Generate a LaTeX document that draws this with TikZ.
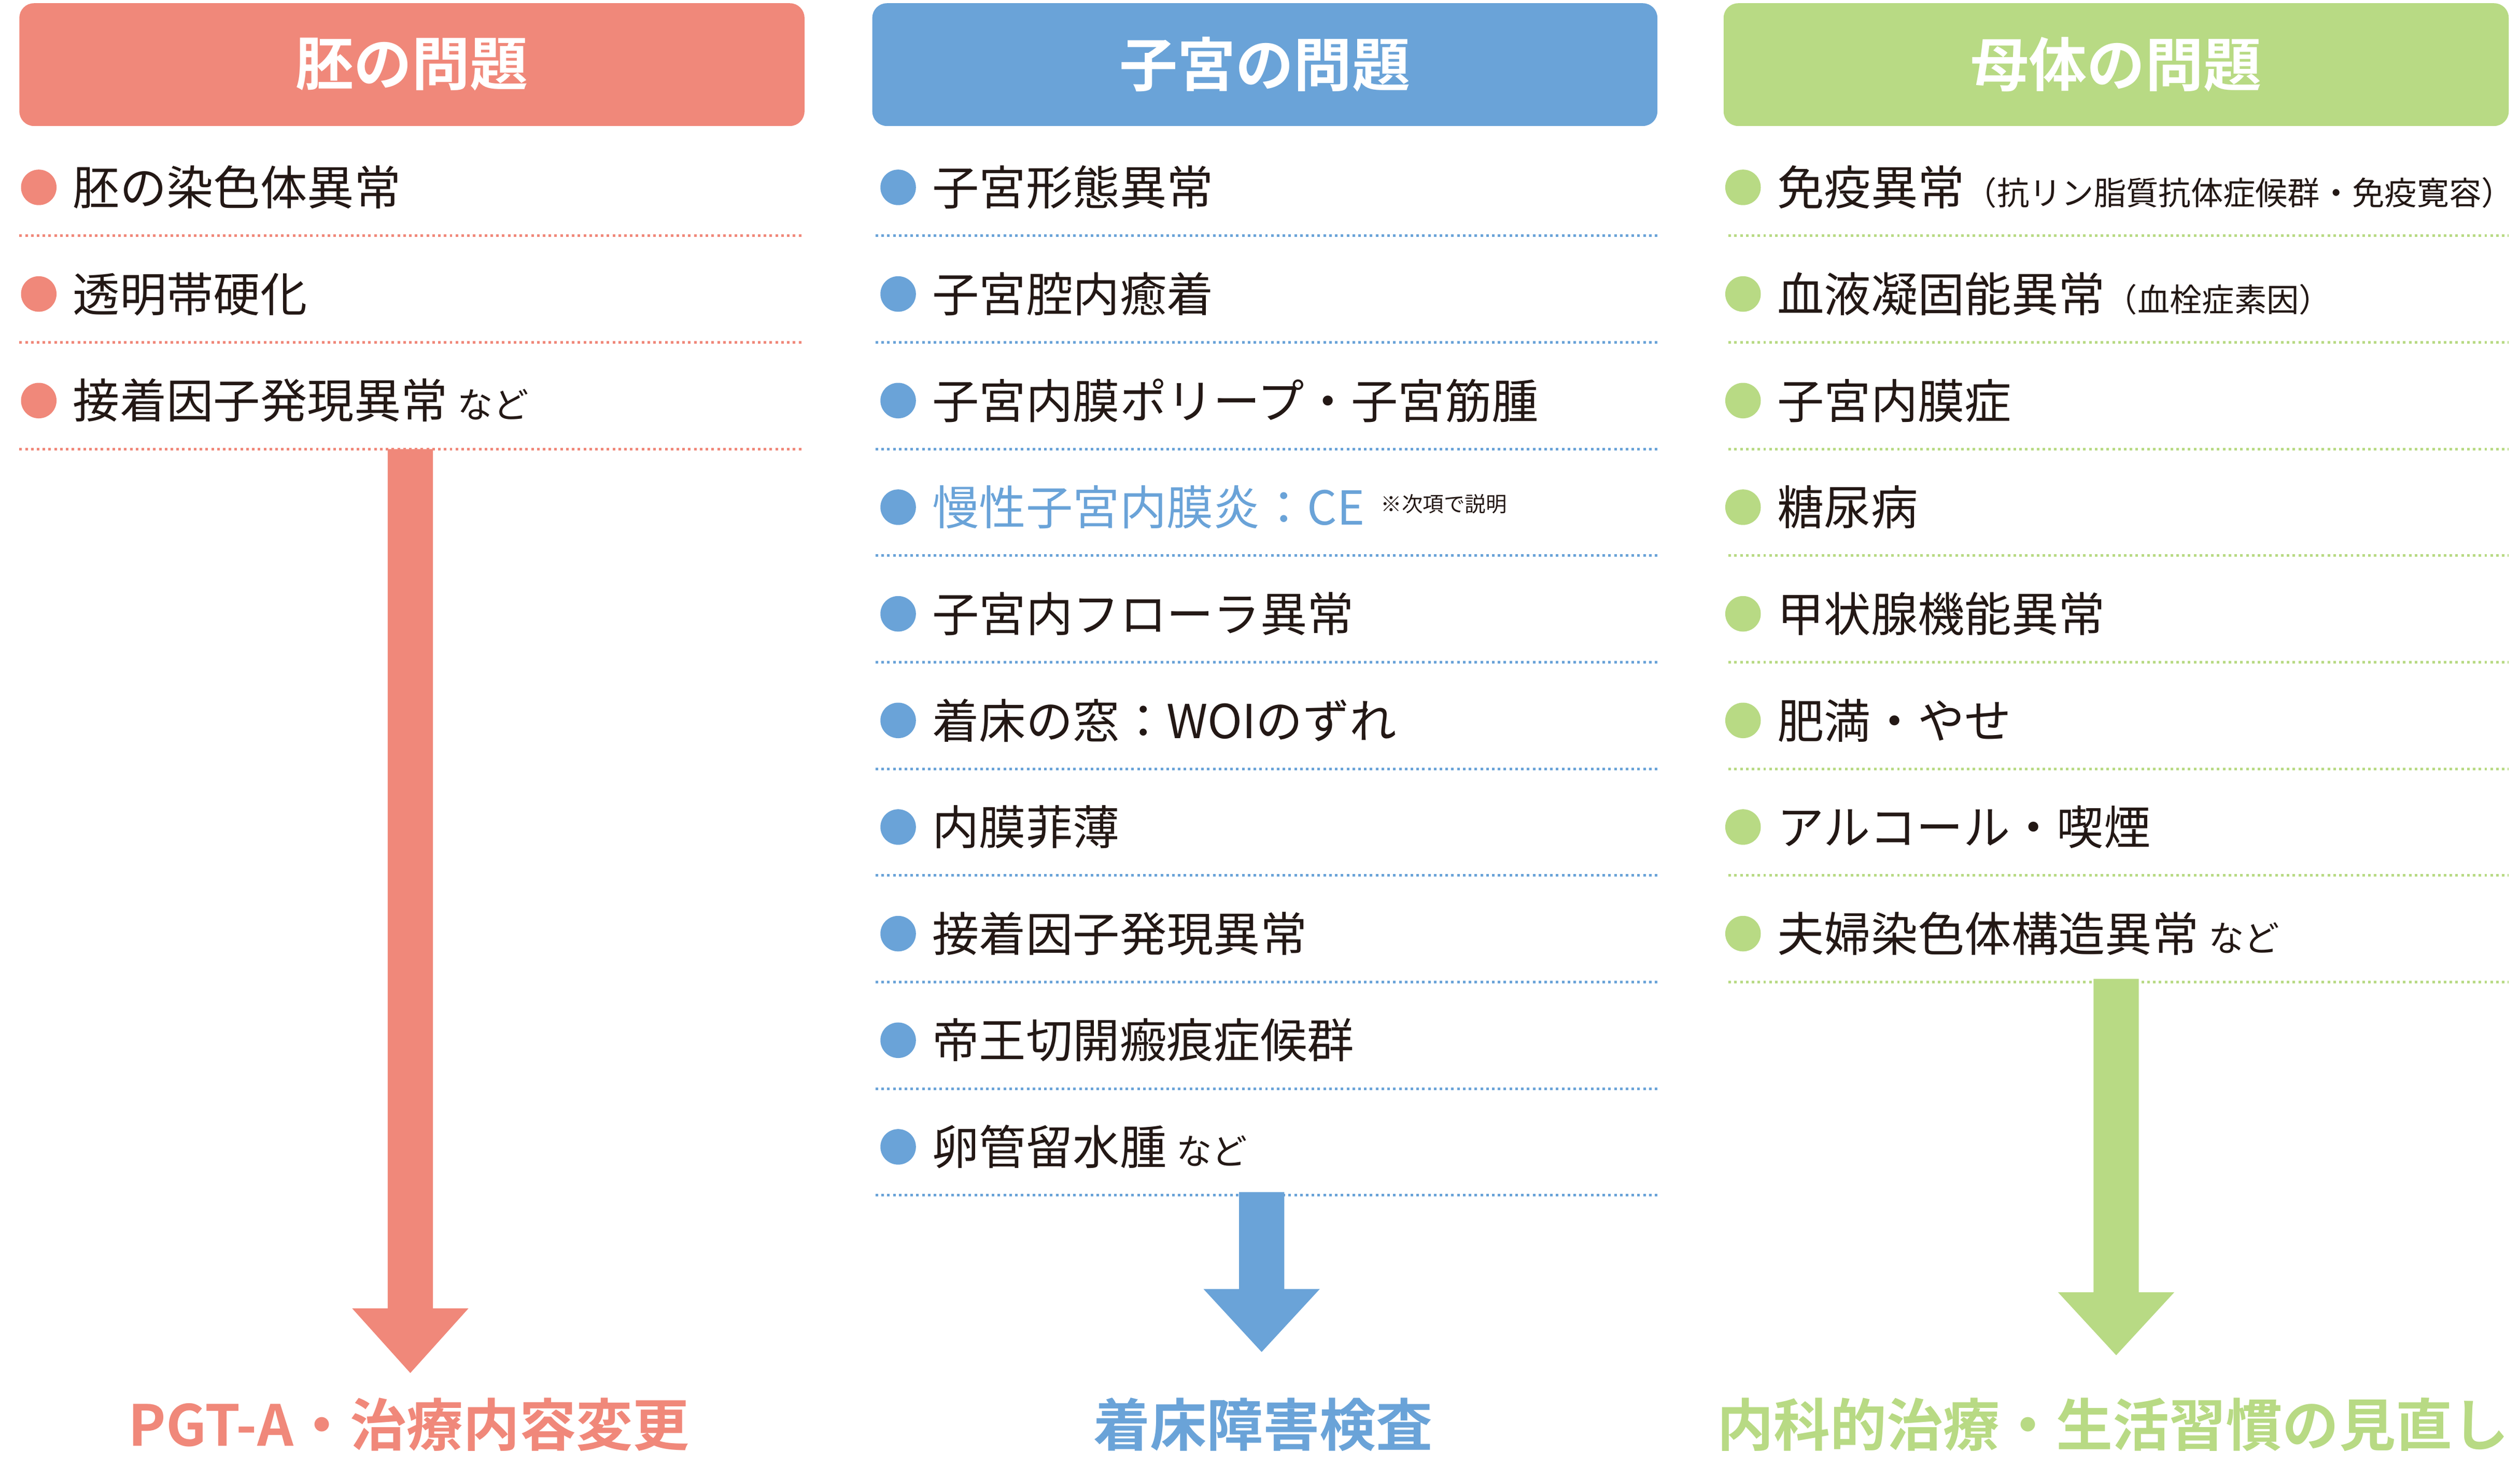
\documentclass[tikz,border=0pt]{standalone}
\usepackage{fontspec}
\setmainfont{Noto Sans CJK JP}
\newfontfamily\jpbold{Noto Sans CJK JP Bold}
\definecolor{cRed}{HTML}{F0887A}
\definecolor{cBlue}{HTML}{6AA3D8}
\definecolor{cGreen}{HTML}{B8DA84}
\definecolor{cText}{HTML}{231815}
\begin{document}
\begin{tikzpicture}[x=1pt,y=1pt,
  hdr/.style={fill=#1,rounded corners=9pt,minimum width=486pt,minimum height=76pt,inner sep=0pt,text=white,font=\jpbold\fontsize{36}{40}\selectfont},
  item/.style={anchor=west,inner sep=0pt,text=cText,font=\fontsize{29}{34}\selectfont},
  dotline/.style={#1,dotted,line width=1.6pt},
  bul/.style={circle,fill=#1,minimum size=22pt,inner sep=0pt},
  bigarrow/.style={fill=#1},
  result/.style={font=\jpbold\fontsize{35}{40}\selectfont,text=#1}]
\useasboundingbox (0,0) rectangle (1560,-908);
\newcommand{\sm}[1]{{\fontsize{20}{24}\selectfont #1}}
\newcommand{\nd}{\hspace{6pt}{\fontsize{22}{24}\selectfont など}}
% headers
\node[hdr=cRed] (h1) at (255,-40) {胚の問題};
\node[hdr=cBlue] (h2) at (783,-40) {子宮の問題};
\node[hdr=cGreen] (h3) at (1310,-40) {母体の問題};
% column 1
\foreach \t [count=\i] in {胚の染色体異常,透明帯硬化,{接着因子発現異常\nd}}{
  \node[bul=cRed] (a\i b) at (24,{-116-66*(\i-1)}) {};
  \node[item] (a\i) at (45,{-116-66*(\i-1)}) {\t};
  \draw[dotline=cRed] (12,{-146-66*(\i-1)}) -- (496,{-146-66*(\i-1)});
}
% column 2
\foreach \t [count=\i] in {子宮形態異常,子宮腔内癒着,子宮内膜ポリープ・子宮筋腫,{\textcolor{cBlue}{慢性子宮内膜炎：CE}\hspace{10pt}\raisebox{8pt}{\fontsize{13}{14}\selectfont ※次項で説明}},子宮内フローラ異常,着床の窓：WOIのずれ,内膜菲薄,接着因子発現異常,帝王切開瘢痕症候群,{卵管留水腫\nd}}{
  \node[bul=cBlue] (b\i b) at (556,{-116-66*(\i-1)}) {};
  \node[item] (b\i) at (577,{-116-66*(\i-1)}) {\t};
  \draw[dotline=cBlue] (542,{-146-66*(\i-1)}) -- (1026,{-146-66*(\i-1)});
}
% column 3
\foreach \t [count=\i] in {{免疫異常\sm{（抗リン脂質抗体症候群・免疫寛容）}},{血液凝固能異常\sm{（血栓症素因）}},子宮内膜症,糖尿病,甲状腺機能異常,肥満・やせ,アルコール・喫煙,{夫婦染色体構造異常\nd}}{
  \node[bul=cGreen] (c\i b) at (1079,{-116-66*(\i-1)}) {};
  \node[item] (c\i) at (1100,{-116-66*(\i-1)}) {\t};
  \draw[dotline=cGreen] (1070,{-146-66*(\i-1)}) -- (1553,{-146-66*(\i-1)});
}
% arrows
\fill[cRed] (240,-278) -- (268,-278) -- (268,-810) -- (290,-810) -- (254,-850) -- (218,-810) -- (240,-810) -- cycle;
\fill[cBlue] (767,-738) -- (795,-738) -- (795,-798) -- (817,-798) -- (781,-837) -- (745,-798) -- (767,-798) -- cycle;
\fill[cGreen] (1296,-606) -- (1324,-606) -- (1324,-800) -- (1346,-800) -- (1310,-839) -- (1274,-800) -- (1296,-800) -- cycle;
% results
\node[result=cRed] (r1) at (253,-882) {PGT-A・治療内容変更};
\node[result=cBlue] (r2) at (782,-882) {着床障害検査};
\node[result=cGreen] (r3) at (1308,-882) {内科的治療・生活習慣の見直し};
\end{tikzpicture}
\end{document}
